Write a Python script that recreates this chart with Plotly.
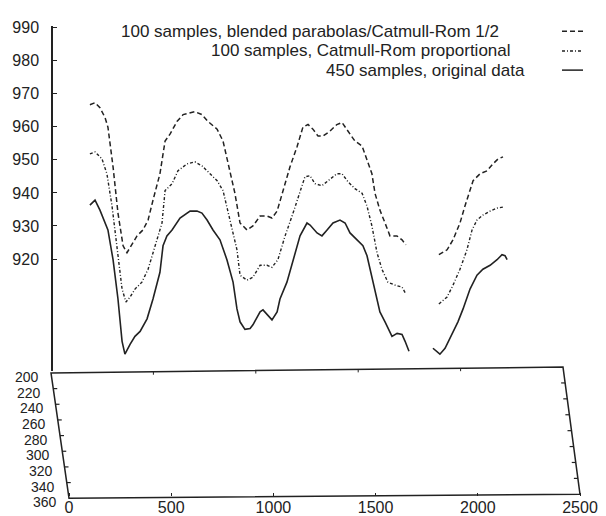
import plotly.graph_objects as go

W, H = 606, 516

# ---------------- data ----------------
SERIES_NAMES = [
    "100 samples, blended parabolas/Catmull-Rom 1/2",
    "100 samples, Catmull-Rom proportional",
    "450 samples, original data",
]

DASH_X = [190, 215, 239, 264, 278, 303, 327, 352, 371, 396, 420, 449, 474, 498, 532, 557, 581, 615, 645, 703,
          737, 767, 811, 840, 874, 898, 923, 957, 986, 1021, 1055, 1079, 1104, 1133, 1167, 1201, 1230, 1255, 1279, 1304,
          1328, 1362, 1396, 1421, 1445, 1484, 1519, 1533, 1567, 1582, 1606, 1631, 1655, 1689, 1714, 1733, None,
          1894, 1934, 1963, 1997, 2021, 2046, 2061, 2095, 2129, 2158, 2183, 2207]
DASH_V = [966.7, 967.3, 965.8, 962.8, 959.9, 947.9, 933.9, 924.0, 921.9, 924.3, 927.0, 928.8, 931.8, 937.8, 945.8,
          955.7, 957.8, 961.6, 963.7, 964.6, 963.7, 961.6, 959.3, 955.7, 946.7, 939.9, 930.9, 928.8, 930.0, 933.0,
          933.0, 932.4, 934.5, 940.7, 947.9, 953.9, 959.9, 960.7, 959.3, 957.2, 957.2, 958.7, 960.7, 961.3, 959.3,
          955.7, 954.2, 951.8, 945.8, 939.9, 934.8, 930.9, 927.0, 927.0, 925.8, 924.3, None,
          921.3, 922.8, 925.8, 930.9, 936.0, 940.7, 943.7, 945.8, 946.7, 948.8, 950.3, 950.9]

DD_X = [190, 215, 249, 273, 298, 322, 347, 366, 386, 410, 444, 474, 508, 542, 557, 591, 620, 664, 703, 737,
        767, 811, 840, 874, 908, 923, 957, 986, 1021, 1055, 1079, 1108, 1143, 1182, 1216, 1240, 1265, 1289, 1323, 1353,
        1396, 1421, 1450, 1484, 1519, 1543, 1567, 1592, 1616, 1645, 1680, 1714, 1733, None,
        1894, 1934, 1963, 1997, 2031, 2056, 2080, 2109, 2144, 2178, 2207]
DD_V = [951.8, 952.4, 950.3, 945.8, 936.0, 922.8, 910.9, 907.0, 908.5, 910.9, 913.0, 916.9, 924.0, 930.9, 940.7,
        942.8, 946.7, 948.8, 949.4, 948.2, 946.4, 943.7, 940.7, 931.8, 922.8, 915.1, 913.6, 914.5, 918.1, 918.1,
        917.5, 919.8, 927.0, 933.9, 940.7, 944.9, 945.2, 942.8, 942.2, 943.7, 945.8, 945.8, 943.4, 941.3, 939.9,
        936.0, 930.0, 921.9, 916.9, 913.0, 912.1, 911.5, 909.4, None,
        906.4, 908.5, 912.1, 916.9, 922.8, 928.8, 931.8, 933.3, 934.5, 935.4, 935.7]

SOLID_X = [190, 215, 239, 264, 278, 303, 327, 347, 361, 386, 410, 435, 469, 498, 532, 547, 566, 591, 630, 679,
           713, 737, 762, 791, 825, 859, 889, 908, 923, 947, 972, 986, 1021, 1035, 1055, 1079, 1104, 1118, 1152, 1182,
           1216, 1250, 1265, 1299, 1323, 1348, 1377, 1411, 1436, 1460, 1494, 1523, 1543, 1572, 1606, 1631, 1665, 1690,
           1714, 1729, 1748, None,
           1865, 1899, 1924, 1958, 1987, 2012, 2046, 2080, 2109, 2144, 2178, 2202, 2217, 2227]
SOLID_V = [936.3, 937.8, 934.8, 930.9, 928.8, 919.8, 907.9, 895.1, 891.2, 894.2, 896.6, 898.1, 901.9, 907.9, 916.0,
           924.0, 927.0, 928.8, 932.4, 934.5, 934.5, 933.9, 931.8, 928.8, 925.8, 919.8, 913.0, 904.9, 901.0, 898.7,
           899.0, 900.1, 904.0, 904.6, 903.1, 901.6, 904.0, 907.9, 913.0, 919.8, 927.0, 930.9, 930.3, 927.9, 927.0,
           928.8, 930.9, 931.8, 930.9, 927.9, 925.8, 924.0, 921.0, 913.0, 904.0, 901.0, 896.6, 897.5, 897.2, 895.1,
           892.1, None,
           893.0, 891.2, 893.0, 897.2, 901.0, 904.9, 910.9, 915.1, 916.9, 918.1, 919.8, 921.3, 921.0, 919.8]

Z_TICKS = [920, 930, 940, 950, 960, 970, 980, 990]
X_TICKS = [0, 500, 1000, 1500, 2000, 2500]
DEPTH_TICKS = [200, 220, 240, 260, 280, 300, 320, 340, 360]

# ---------------- styling / layout geometry ----------------
INK = "#222222"
FONT = "Liberation Sans, Arial, sans-serif"
DASH_STYLE = "5px,3px"
DD_STYLE = "3px,2px,1px,2px"

# base-plane corners in pixels (x=0/2500, depth=200/360)
TL, TR, BL, BR = (51, 372), (563, 366), (69, 499), (580, 495)


def base_px(x, d):
    u = x / 2500.0
    v = (d - 200) / 160.0
    px = (1 - u) * (1 - v) * TL[0] + u * (1 - v) * TR[0] + (1 - u) * v * BL[0] + u * v * BR[0]
    py = (1 - u) * (1 - v) * TL[1] + u * (1 - v) * TR[1] + (1 - u) * v * BL[1] + u * v * BR[1]
    return px, py


def paper(px, py):
    return px / W, 1 - py / H


fig = go.Figure()

for name, xs, vs, dash, width in [
    (SERIES_NAMES[0], DASH_X, DASH_V, DASH_STYLE, 1.5),
    (SERIES_NAMES[1], DD_X, DD_V, DD_STYLE, 1.4),
    (SERIES_NAMES[2], SOLID_X, SOLID_V, "solid", 1.6),
]:
    fig.add_trace(go.Scatter(x=xs, y=vs, mode="lines", name=name, showlegend=False,
                             line=dict(color=INK, width=width, dash=dash),
                             connectgaps=False, hoverinfo="skip"))

# invisible carrier so the base-plane x axis gets drawn
fig.add_trace(go.Scatter(x=X_TICKS, y=[0.5] * len(X_TICKS), xaxis="x2", yaxis="y2", mode="markers",
                         marker=dict(opacity=0), showlegend=False, hoverinfo="skip"))

shapes = []
annotations = []

# base plane frame
p = [paper(*TL), paper(*TR), paper(*BR), paper(*BL)]
path = "M {} {} L {} {} L {} {} L {} {} Z".format(p[0][0], p[0][1], p[1][0], p[1][1],
                                                  p[2][0], p[2][1], p[3][0], p[3][1])
shapes.append(dict(type="path", path=path, xref="paper", yref="paper",
                   line=dict(color=INK, width=1.5)))

# depth ticks and labels
for d in DEPTH_TICKS:
    lx, ly = base_px(0, d)
    rx, ry = base_px(2500, d)
    if d not in (200, 360):
        a, b = paper(lx, ly), paper(lx + 4, ly)
        shapes.append(dict(type="line", xref="paper", yref="paper", x0=a[0], y0=a[1], x1=b[0], y1=b[1],
                           line=dict(color=INK, width=1.2)))
        a, b = paper(rx, ry), paper(rx - 4, ry)
        shapes.append(dict(type="line", xref="paper", yref="paper", x0=a[0], y0=a[1], x1=b[0], y1=b[1],
                           line=dict(color=INK, width=1.2)))
    t = paper(lx - 11, ly + 4)
    annotations.append(dict(x=t[0], y=t[1], xref="paper", yref="paper", text=str(d), showarrow=False,
                            xanchor="right", yanchor="middle", borderpad=0,
                            font=dict(size=14, color=INK, family=FONT)))

# small ticks along the far edge
for x in X_TICKS[1:-1]:
    tx, ty = base_px(x, 200)
    a, b = paper(tx, ty), paper(tx, ty + 3)
    shapes.append(dict(type="line", xref="paper", yref="paper", x0=a[0], y0=a[1], x1=b[0], y1=b[1],
                       line=dict(color=INK, width=1)))

# legend (text right-justified, sample on the right as in gnuplot)
LEG = [(501, 25.5, DASH_STYLE), (513, 45.5, DD_STYLE), (527, 65, "solid")]
for name, (xe, yc, dash) in zip(SERIES_NAMES, LEG):
    t = paper(xe, yc)
    annotations.append(dict(x=t[0], y=t[1], xref="paper", yref="paper", text=name, showarrow=False,
                            xanchor="right", yanchor="middle",
                            font=dict(size=17, color=INK, family=FONT)))
    a, b = paper(562, yc), paper(583, yc)
    shapes.append(dict(type="line", xref="paper", yref="paper", x0=a[0], y0=a[1], x1=b[0], y1=b[1],
                       line=dict(color=INK, width=1.5, dash=dash)))

# axis scales (pixel-matched)
x_lo = (0 - TL[0]) / ((TR[0] - TL[0]) / 2500.0)
x_hi = (W - TL[0]) / ((TR[0] - TL[0]) / 2500.0)
bx_scale = (BR[0] - BL[0]) / 2500.0
bx_lo = (0 - BL[0]) / bx_scale
bx_hi = (W - BL[0]) / bx_scale

fig.update_layout(
    width=W, height=H,
    margin=dict(l=0, r=0, t=0, b=0),
    paper_bgcolor="white", plot_bgcolor="rgba(0,0,0,0)",
    font=dict(family=FONT, color=INK),
    shapes=shapes, annotations=annotations,
    xaxis=dict(domain=[0, 1], range=[x_lo, x_hi], visible=False, anchor="y"),
    yaxis=dict(domain=[1 - 370 / H, 1 - 20 / H], range=[886.12, 990.6],
               anchor="free", position=52 / W,
               tickvals=Z_TICKS, ticks="inside", ticklen=4, tickcolor=INK,
               showline=True, linecolor=INK, linewidth=1.5,
               showgrid=False, zeroline=False, ticklabelstandoff=9,
               tickfont=dict(size=16, color=INK, family=FONT)),
    xaxis2=dict(domain=[0, 1], range=[bx_lo, bx_hi], anchor="y2",
                tickvals=X_TICKS, ticks="inside", ticklen=3, tickcolor=INK,
                showline=False, showgrid=False, zeroline=False,
                tickfont=dict(size=16, color=INK, family=FONT)),
    yaxis2=dict(domain=[1 - 497 / H, 0.2], range=[0, 1], visible=False, anchor="x2"),
    showlegend=False,
)

fig.write_html("out.html", config={"displayModeBar": False},
               post_script="document.body.style.margin='0';document.body.style.overflow='hidden';")
